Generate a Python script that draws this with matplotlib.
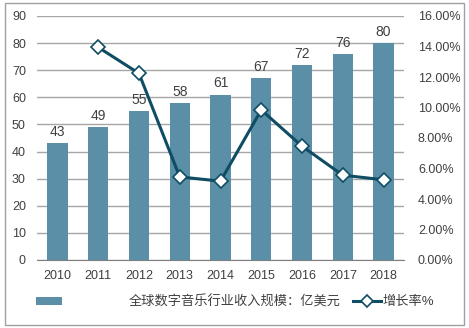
import matplotlib
matplotlib.use("Agg")
import matplotlib.pyplot as plt
from matplotlib.patches import Patch, Rectangle
from matplotlib.lines import Line2D

plt.rcParams['font.family'] = ['Liberation Sans', 'Noto Sans CJK SC', 'DejaVu Sans']

years = ['2010', '2011', '2012', '2013', '2014', '2015', '2016', '2017', '2018']
revenue = [43, 49, 55, 58, 61, 67, 72, 76, 80]
growth_years = ['2011', '2012', '2013', '2014', '2015', '2016', '2017', '2018']
growth = [13.95, 12.24, 5.45, 5.17, 9.84, 7.46, 5.56, 5.26]
left_ticks = [0, 10, 20, 30, 40, 50, 60, 70, 80, 90]
right_ticks = [0, 2, 4, 6, 8, 10, 12, 14, 16]
bar_label = '全球数字音乐行业收入规模：亿美元'
line_label = '增长率%'

bar_color = '#5B8FA7'
line_color = '#0E4D63'
text_color = '#404040'

W, H = 469, 328
fig = plt.figure(figsize=(W / 100, H / 100), dpi=100)
ax = fig.add_axes([37 / W, 1 - 260 / H, (404 - 37) / W, (260 - 16) / H])

x = list(range(len(years)))
ax.bar(x, revenue, width=0.5, color=bar_color, zorder=2)
for xi, v in zip(x, revenue):
    ax.annotate(str(v), (xi, v), xytext=(0, 3), textcoords='offset points',
                ha='center', va='bottom', fontsize=10, color=text_color)

ax.set_ylim(0, 90)
ax.set_yticks(left_ticks)
ax.set_xlim(-0.5, len(years) - 0.5)
ax.set_xticks(x)
ax.set_xticklabels(years)
ax.yaxis.grid(True, color='#A6A6A6', linewidth=1)
ax.set_axisbelow(True)
for s in ['left', 'right', 'top']:
    ax.spines[s].set_visible(False)
ax.spines['bottom'].set_color('#7F7F7F')
ax.tick_params(axis='both', length=0, labelsize=9, labelcolor=text_color)
ax.tick_params(axis='x', pad=7)
ax.tick_params(axis='y', pad=8)

ax2 = ax.twinx()
gx = [years.index(y) for y in growth_years]
ax2.plot(gx, growth, color=line_color, linewidth=2.2, marker='D', markersize=7,
         markerfacecolor='white', markeredgecolor=line_color, markeredgewidth=1.2, zorder=3)
ax2.set_ylim(0, 16)
ax2.set_yticks(right_ticks)
ax2.set_yticklabels([f'{t:.2f}%' for t in right_ticks])
for s in ['left', 'right', 'top', 'bottom']:
    ax2.spines[s].set_visible(False)
ax2.tick_params(axis='y', length=0, labelsize=9, labelcolor=text_color, pad=10)

# legends
h1 = Patch(facecolor=bar_color, edgecolor='none')
leg1 = fig.legend([h1], [bar_label], loc='center left', bbox_to_anchor=(36 / W, 1 - 302 / H),
                  frameon=False, fontsize=9.5, handlelength=2.0, handleheight=0.65,
                  handletextpad=5.0, borderaxespad=0, borderpad=0)
for t in leg1.get_texts():
    t.set_color(text_color)
h2 = Line2D([0], [0], color=line_color, linewidth=2.2, marker='D', markersize=6,
            markerfacecolor='white', markeredgecolor=line_color, markeredgewidth=1.2)
leg2 = fig.legend([h2], [line_label], loc='center left', bbox_to_anchor=(353 / W, 1 - 302 / H),
                  frameon=False, fontsize=9.5, handlelength=2.1, handletextpad=0.15,
                  borderaxespad=0, borderpad=0)
for t in leg2.get_texts():
    t.set_color(text_color)

fig.patches.append(Rectangle((5 / W, 3 / H), (464 - 5) / W, (325 - 3) / H,
                             transform=fig.transFigure, fill=False,
                             edgecolor='#A0A0A0', linewidth=1))

fig.savefig('out.png', dpi=100)
